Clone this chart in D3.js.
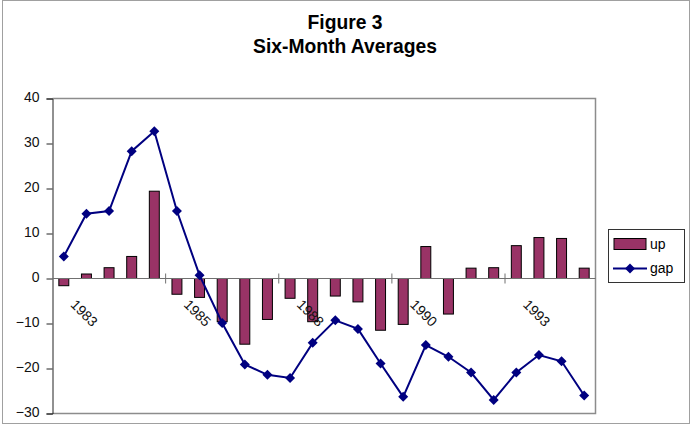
<!DOCTYPE html>
<html><head><meta charset="utf-8">
<script src="https://cdn.jsdelivr.net/npm/d3@7"></script>
<style>body{margin:0;background:#fff}svg{display:block}text{font-family:"Liberation Sans",Arial,sans-serif}</style>
</head><body><svg id="c" width="693" height="426"></svg>
<script>
const categories = ["1983","1983","1984","1984","1985","1985","1986","1986","1987","1987","1988","1988","1989","1989","1990","1990","1991","1991","1992","1992","1993","1993","1994","1994"];
const upValues = [-1.6, 1.0, 2.4, 4.9, 19.4, -3.5, -4.2, -9.6, -14.6, -9.1, -4.4, -9.6, -3.9, -5.2, -11.5, -10.2, 7.1, -7.9, 2.3, 2.4, 7.3, 9.1, 8.9, 2.3];
const gapValues = [4.9, 14.4, 15.0, 28.3, 32.7, 15.0, 0.7, -9.9, -19.1, -21.4, -22.1, -14.3, -9.3, -11.2, -18.9, -26.3, -14.8, -17.4, -20.9, -27.0, -20.9, -17.0, -18.4, -26.0];
const yTicks = [-30, -20, -10, 0, 10, 20, 30, 40];
const titleLines = ["Figure 3", "Six-Month Averages"];
const seriesNames = ["up", "gap"];

const svg = d3.select("#c");
const L = 52.5, R = 595.5, T = 98.5, B = 413.5;
const idx = d3.range(categories.length);
const x = d3.scaleBand().domain(idx).range([L, R]).paddingInner(0).paddingOuter(0);
const y = d3.scaleLinear().domain([-30, 40]).range([B, T]);
const bw = x.bandwidth();

// outer border
svg.append("rect").attr("x", 2.5).attr("y", 0.5).attr("width", 687).attr("height", 423)
  .attr("fill", "none").attr("stroke", "#a0a0a0").attr("stroke-width", 1);

// title
svg.append("text").attr("x", 345).attr("y", 28.5).attr("text-anchor", "middle")
  .attr("font-size", 19.3).attr("font-weight", "bold").text(titleLines[0]);
svg.append("text").attr("x", 345).attr("y", 53).attr("text-anchor", "middle")
  .attr("font-size", 19.3).attr("font-weight", "bold").text(titleLines[1]);

// plot frame (top, right, bottom)
svg.append("path").attr("d", `M${L},${T}H${R}V${B}H${L}`).attr("fill", "none")
  .attr("stroke", "#8c8c8c").attr("stroke-width", 1.5);

// y axis
const yAxis = d3.axisLeft(y).tickValues(yTicks).tickSize(6).tickPadding(7).tickFormat(d3.format("d"));
const gy = svg.append("g").attr("transform", `translate(${L},0)`).call(yAxis);
gy.select(".domain").attr("stroke", "#222");
gy.selectAll(".tick line").attr("stroke", "#222");
gy.selectAll("text").attr("font-size", 14).attr("fill", "#111").attr("dy", "0.2em")
  .attr("font-family", "Liberation Sans, Arial, sans-serif");

// bars
svg.append("g").selectAll("rect").data(upValues).join("rect")
  .attr("x", (d, i) => x(i) + bw * 0.28)
  .attr("width", bw * 0.44)
  .attr("y", d => y(Math.max(0, d)))
  .attr("height", d => Math.abs(y(d) - y(0)))
  .attr("fill", "#993366").attr("stroke", "#000").attr("stroke-width", 1);

// category axis at zero
const y0 = y(0);
svg.append("line").attr("x1", L).attr("x2", R).attr("y1", y0).attr("y2", y0)
  .attr("stroke", "#707070").attr("stroke-width", 1.2);
const tickIdx = idx.filter(i => i > 0 && i % 5 === 0);
svg.append("g").selectAll("line").data(tickIdx).join("line")
  .attr("x1", i => x(i)).attr("x2", i => x(i))
  .attr("y1", y0 - 5).attr("y2", y0 + 5).attr("stroke", "#707070");
const labelIdx = idx.filter(i => i % 5 === 0);
svg.append("g").selectAll("text").data(labelIdx).join("text")
  .attr("transform", i => `translate(${x(i) + bw / 2 + 6},${y0 + 27}) rotate(45)`)
  .attr("font-size", 14).attr("fill", "#111")
  .text(i => categories[i]);

// line
const line = d3.line().x((d, i) => x(i) + bw / 2).y(d => y(d));
svg.append("path").datum(gapValues).attr("d", line).attr("fill", "none")
  .attr("stroke", "#000080").attr("stroke-width", 2);
const diamond = d3.symbol().type(d3.symbolDiamond2).size(64);
svg.append("g").selectAll("path").data(gapValues).join("path")
  .attr("transform", (d, i) => `translate(${x(i) + bw / 2},${y(d)})`)
  .attr("d", diamond).attr("fill", "#000080");

// legend
const lg = svg.append("g");
lg.append("rect").attr("x", 608.5).attr("y", 229.5).attr("width", 76).attr("height", 53)
  .attr("fill", "#fff").attr("stroke", "#333");
lg.append("rect").attr("x", 614).attr("y", 238.5).attr("width", 32).attr("height", 11)
  .attr("fill", "#993366").attr("stroke", "#000");
lg.append("text").attr("x", 650).attr("y", 249).attr("font-size", 14).text(seriesNames[0]);
lg.append("line").attr("x1", 613).attr("x2", 647).attr("y1", 268.5).attr("y2", 268.5)
  .attr("stroke", "#000080").attr("stroke-width", 2);
lg.append("path").attr("transform", "translate(630,268.5)").attr("d", diamond).attr("fill", "#000080");
lg.append("text").attr("x", 650).attr("y", 273).attr("font-size", 14).text(seriesNames[1]);
</script></body></html>
